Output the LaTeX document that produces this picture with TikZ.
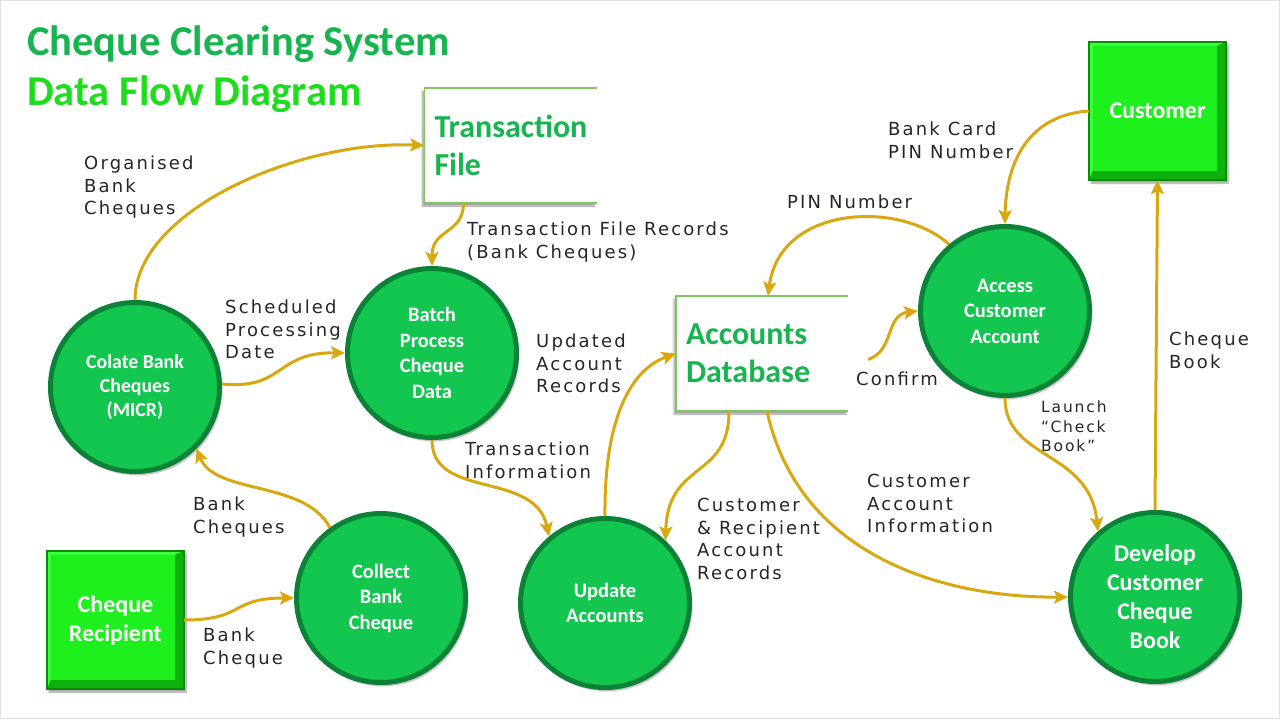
\documentclass[tikz,border=0pt]{standalone}
\usepackage{fontspec}
\setmainfont{Carlito}
\newfontfamily\hand{DejaVu Sans}[LetterSpace=12]
\usetikzlibrary{arrows.meta,shadows.blur,calc}
\definecolor{titlegreen}{HTML}{17B450}
\definecolor{titlebright}{HTML}{1EDC1E}
\definecolor{procgreen}{HTML}{12C650}
\definecolor{procdark}{HTML}{0B8236}
\definecolor{boxgreen}{HTML}{1EF01E}
\definecolor{boxdark}{HTML}{0C8A0C}
\definecolor{boxdarker}{HTML}{0DB00D}
\definecolor{boxlight}{HTML}{3CFF3C}
\definecolor{gold}{HTML}{D8A810}
\definecolor{storeline}{HTML}{7CC85C}
\tikzset{
  proc/.style={circle, fill=procgreen, draw=procdark, line width=5pt, text=white,
    font=\bfseries\fontsize{20.5}{25.5}\selectfont, align=center, minimum size=169pt, inner sep=0pt,
    blur shadow={shadow xshift=2pt, shadow yshift=-3pt, shadow blur steps=6}},
  store/.style={rectangle, fill=white, inner xsep=10pt, inner ysep=0pt, minimum height=115pt,
    text width=152pt, align=left, text=titlegreen, font=\bfseries\fontsize{32}{38}\selectfont,
    blur shadow={shadow xshift=-2pt, shadow yshift=-3pt, shadow blur steps=6}},
  ext/.style={rectangle, fill=boxgreen, minimum width=137pt, minimum height=138pt, inner sep=0pt,
    blur shadow={shadow xshift=2pt, shadow yshift=-3pt, shadow blur steps=6}},
  exttext/.style={text=white, align=center, font=\bfseries\fontsize{24}{29}\selectfont},
  flow/.style={draw=gold, line width=3pt, -{Stealth[length=14pt,width=13pt,inset=3pt]}},
  lbl/.style={font=\hand\fontsize{18}{22.5}\selectfont, align=left, anchor=north west, inner sep=0pt, text=black!85},
  title/.style={anchor=base west, inner sep=0pt, font=\bfseries\fontsize{42.5}{44}\selectfont}
}
\newcommand\bevel[1]{%
  \fill[boxlight] (#1.north west) -- (#1.north east) -- ($(#1.north east)+(-9,4)$) -- ($(#1.north west)+(4,4)$) -- ($(#1.south west)+(4,-9)$) -- (#1.south west) -- cycle;
  \fill[boxdarker] (#1.south west) -- (#1.south east) -- ($(#1.south east)+(-9,-9)$) -- ($(#1.south west)+(4,-9)$) -- cycle;
  \fill[boxdarker] (#1.north east) -- (#1.south east) -- ($(#1.south east)+(-9,-9)$) -- ($(#1.north east)+(-9,4)$) -- cycle;
  \draw[boxdark, line width=1.5pt] (#1.south west) rectangle (#1.north east);}
\begin{document}
\begin{tikzpicture}[x=1pt,y=-1pt]
\useasboundingbox (0,0) rectangle (1280,720);
\draw[black!12, line width=1pt] (0.5,0.5) rectangle (1279.5,718.5);

% titles
\node[title, text=titlegreen] (t1) at (27,55) {Cheque Clearing System};
\node[title, text=titlebright] (t2) at (27,105) {Data Flow Diagram};

% data stores
\node[store] (tf) at (510.5,145.5) {Transaction\\File};
\draw[storeline, line width=1.5pt] (tf.north east) -- (tf.north west) -- (tf.south west) -- (tf.south east);
\node[store] (db) at (762,353.5) {Accounts\\Database};
\draw[storeline, line width=1.5pt] (db.north east) -- (db.north west) -- (db.south west) -- (db.south east);

% external entities
\node[ext] (cust) at (1157.5,111) {};
\bevel{cust}
\node[exttext] (custtxt) at (cust.center) {Customer};
\node[ext] (rec) at (115.5,620) {};
\bevel{rec}
\node[exttext] (rectxt) at (rec.center) {Cheque\\Recipient};

% processes
\node[proc, font=\bfseries\fontsize{19.8}{24}\selectfont] (colate) at (135,387) {Colate Bank\\Cheques\\(MICR)};
\node[proc] (batch) at (432,353) {Batch\\Process\\Cheque\\Data};
\node[proc] (collect) at (381,598) {Collect\\Bank\\Cheque};
\node[proc] (update) at (605,603) {Update\\Accounts};
\node[proc] (access) at (1005,311) {Access\\Customer\\Account};
\node[proc, font=\bfseries\fontsize{24}{29}\selectfont] (develop) at (1155,597) {Develop\\Customer\\Cheque\\Book};

\coordinate (confirmstart) at ($(db.east)+(20,6)$);

% flows
\draw[flow] (colate.90) .. controls (135,210) and (300,140) .. (tf.west);
\draw[flow] ($(tf.south)+(-47,0)$) .. controls (463,235) and (432,228) .. (batch.90);
\draw[flow] (colate.2) .. controls (285,390) and (275,352) .. (batch.180);
\draw[flow] (collect.126) .. controls (305,480) and (215,495) .. (colate.-45);
\draw[flow] (rec.east) .. controls (245,620) and (230,598) .. (collect.180);
\draw[flow] (batch.-90) .. controls (432,500) and (535,470) .. (update.130);
\draw[flow] (update.90) .. controls (604,420) and (630,370) .. (db.west);
\draw[flow] ($(db.south)+(-33,0)$) .. controls (729,480) and (668,460) .. (update.46);
\draw[flow] ($(db.south)+(5,0)$) .. controls (800,560) and (950,598) .. (develop.180);
\draw[flow] (confirmstart) .. controls (895,350) and (885,315) .. (access.180);
\draw[flow] (access.130) .. controls (900,200) and (780,205) .. ($(db.north)+(6,0)$);
\draw[flow] (cust.west) .. controls (1030,115) and (1006,160) .. (access.90);
\draw[flow] (access.-90) .. controls (1005,460) and (1090,450) .. (develop.131);
\draw[flow] (develop.90) -- (cust.south);

% labels
\node[lbl] (l1) at (84,156) {Organised\\Bank\\Cheques};
\node[lbl] (l2) at (467,222) {Transaction File Records\\(Bank Cheques)};
\node[lbl] (l3) at (225,300) {Scheduled\\Processing\\Date};
\node[lbl] (l4) at (536,334) {Updated\\Account\\Records};
\node[lbl] (l5) at (465,442) {Transaction\\Information};
\node[lbl] (l6) at (193,497) {Bank\\Cheques};
\node[lbl] (l7) at (203,628) {Bank\\Cheque};
\node[lbl] (l8) at (697,498) {Customer\\\& Recipient\\Account\\Records};
\node[lbl] (l9) at (867,474) {Customer\\Account\\Information};
\node[lbl] (l10) at (856,372) {Confirm};
\node[lbl] (l11) at (787,195) {PIN Number};
\node[lbl] (l12) at (888,122) {Bank Card\\PIN Number};
\node[lbl, font=\hand\fontsize{15.5}{19.5}\selectfont] (l13) at (1041,401) {Launch\\“Check\\Book”};
\node[lbl] (l14) at (1169,332) {Cheque\\Book};
\end{tikzpicture}
\end{document}
